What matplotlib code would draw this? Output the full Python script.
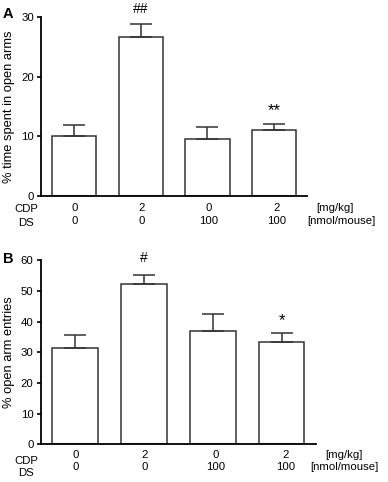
import matplotlib
matplotlib.use("Agg")
import matplotlib.pyplot as plt

plt.rcParams['font.family'] = ['Liberation Sans', 'DejaVu Sans']

groups = [0, 1, 2, 3]
cdp = ["0", "2", "0", "2"]
ds = ["0", "0", "100", "100"]

time_mean = [10.0, 26.6, 9.5, 11.1]
time_sem = [1.8, 2.2, 2.0, 1.0]
time_sig = ["", "##", "", "**"]

entries_mean = [31.4, 52.4, 36.8, 33.5]
entries_sem = [4.2, 2.9, 5.8, 2.7]
entries_sig = ["", "#", "", "*"]

W, H = 388, 482
fig = plt.figure(figsize=(W / 100, H / 100), dpi=100)

FS = 8.2


def panel(rect, means, sems, sigs, ylim, yticks, ylabel, letter, letter_y,
          digit_y, name_y, unit_x, label_x, sig_y, xshift):
    l, t, r, b = rect
    ax = fig.add_axes([l / W, 1 - b / H, (r - l) / W, (b - t) / H])
    ax.bar(groups, means, width=0.665, color='white', edgecolor='#333333',
           linewidth=1.1, zorder=2)
    ax.errorbar(groups, means, yerr=[[0] * len(sems), sems], fmt='none',
                ecolor='#333333', elinewidth=1.1, capsize=7.9, capthick=1.1,
                zorder=3)
    ax.set_xlim(-0.5, 3.5)
    ax.set_ylim(*ylim)
    ax.set_yticks(yticks)
    ax.set_xticks([])
    for s in ['top', 'right']:
        ax.spines[s].set_visible(False)
    for s in ['left', 'bottom']:
        ax.spines[s].set_linewidth(1.3)
    ax.tick_params(axis='y', direction='out', length=3, width=1.2,
                   labelsize=FS, pad=2)
    ax.set_ylabel(ylabel, fontsize=9.3)
    ax.yaxis.set_label_coords(label_x, 0.5)
    for g, s, yv in zip(groups, sigs, sig_y):
        if s:
            ax.text(g, yv, s, ha='center', va='baseline',
                    fontsize=12 if '*' in s else 10, clip_on=False)
    for g, c, d, sh in zip(groups, cdp, ds, xshift):
        xf = (ax.transData.transform((g, 0))[0] + sh) / W
        fig.text(xf, 1 - digit_y[0] / H, c, ha='center', va='center', fontsize=FS)
        fig.text(xf, 1 - digit_y[1] / H, d, ha='center', va='center', fontsize=FS)
    fig.text(26 / W, 1 - name_y[0] / H, "CDP", ha='center', va='center', fontsize=FS)
    fig.text(26 / W, 1 - name_y[1] / H, "DS", ha='center', va='center', fontsize=FS)
    fig.text(unit_x[0] / W, 1 - digit_y[0] / H, "[mg/kg]", ha='left', va='center', fontsize=FS)
    fig.text(unit_x[1] / W, 1 - digit_y[1] / H, "[nmol/mouse]", ha='left', va='center', fontsize=FS)
    fig.text(3 / W, 1 - letter_y / H, letter, ha='left', va='center',
             fontsize=10.5, fontweight='bold')
    return ax


panel((41, 17.3, 307.3, 195.5), time_mean, time_sem, time_sig, (0, 30),
      [0, 10, 20, 30], "% time spent in open arms", "A", 14.3,
      (208, 221.5), (209, 222.5), (316, 307), -0.097, [30.7, 30.7, 0, 13.5],
      [0.7, 0.8, 0.8, 2.3])

panel((40.5, 260.3, 316, 444.3), entries_mean, entries_sem, entries_sig, (0, 60),
      [0, 10, 20, 30, 40, 50, 60], "% open arm entries", "B", 259,
      (455, 467), (461, 473.5), (325, 310.5), -0.093, [59.3, 59.3, 0, 39.0],
      [1.0, 0.5, 3.0, 4.0])

fig.savefig("out.png", dpi=100)
